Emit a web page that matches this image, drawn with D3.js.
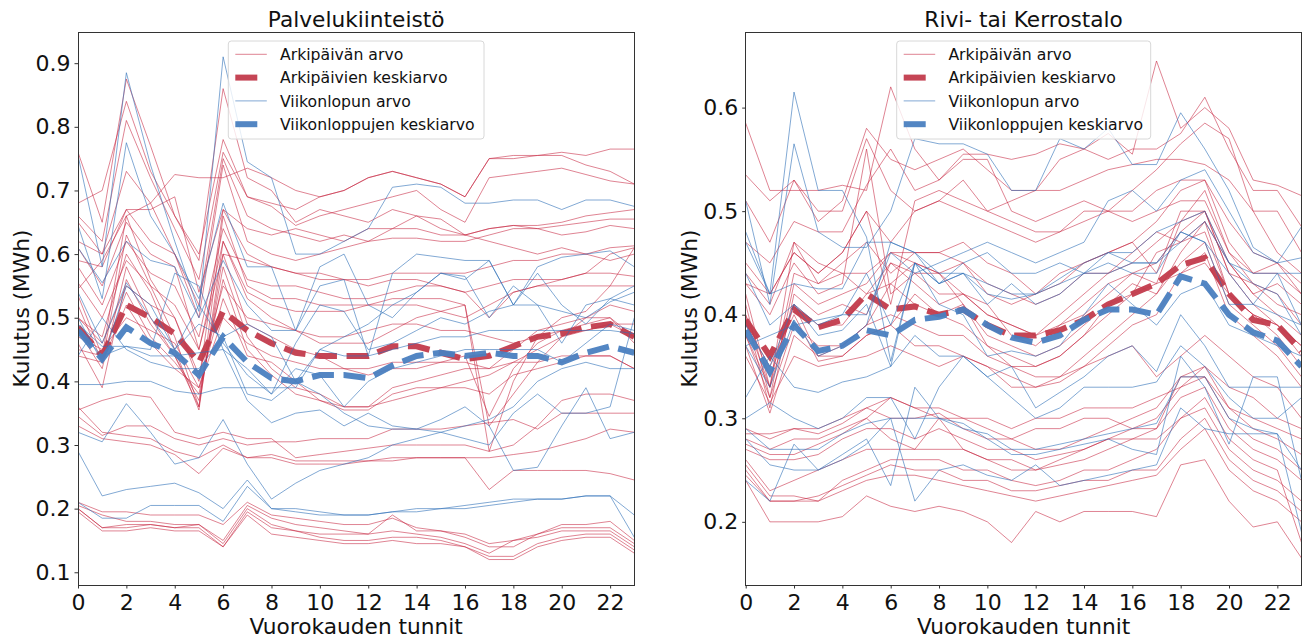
<!DOCTYPE html>
<html>
<head>
<meta charset="utf-8">
<script src="https://cdn.jsdelivr.net/npm/d3@7"></script>
<style>
  html, body { margin: 0; padding: 0; background: #ffffff; }
  svg { display: block; font-family: "DejaVu Sans", sans-serif; }
</style>
</head>
<body>
<svg id="chart" width="1304" height="639"></svg>
<script>
// Hours of the day
const hours = d3.range(24);
const xTicks = [0, 2, 4, 6, 8, 10, 12, 14, 16, 18, 20, 22];

// Legend labels
const legendLabels = ["Arkipäivän arvo", "Arkipäivien keskiarvo", "Viikonlopun arvo", "Viikonloppujen keskiarvo"];

// ---- Palvelukiinteistö: weekday profiles (MWh per hour)
const palveluArki = [
  [0.21,0.195,0.195,0.19,0.19,0.19,0.175,0.21,0.19,0.185,0.18,0.175,0.175,0.185,0.17,0.165,0.16,0.145,0.15,0.16,0.175,0.175,0.18,0.15],
  [0.205,0.19,0.18,0.18,0.175,0.175,0.15,0.205,0.185,0.175,0.17,0.165,0.16,0.19,0.165,0.165,0.155,0.14,0.14,0.16,0.17,0.17,0.17,0.145],
  [0.2,0.17,0.175,0.175,0.17,0.175,0.145,0.2,0.175,0.165,0.16,0.16,0.16,0.165,0.16,0.155,0.145,0.13,0.15,0.155,0.165,0.165,0.165,0.14],
  [0.195,0.165,0.165,0.17,0.165,0.165,0.14,0.195,0.17,0.165,0.155,0.15,0.15,0.155,0.155,0.15,0.14,0.125,0.125,0.145,0.155,0.16,0.16,0.135],
  [0.2,0.17,0.17,0.175,0.17,0.17,0.14,0.19,0.16,0.155,0.15,0.145,0.145,0.15,0.145,0.145,0.14,0.12,0.12,0.14,0.15,0.155,0.155,0.13],
  [0.36,0.32,0.315,0.31,0.29,0.28,0.3,0.28,0.285,0.275,0.275,0.275,0.275,0.275,0.28,0.28,0.28,0.23,0.26,0.26,0.26,0.26,0.255,0.245],
  [0.345,0.315,0.33,0.33,0.31,0.3,0.31,0.3,0.305,0.305,0.31,0.31,0.31,0.325,0.325,0.325,0.33,0.335,0.34,0.325,0.35,0.35,0.35,0.35],
  [0.355,0.37,0.38,0.375,0.32,0.31,0.32,0.31,0.31,0.28,0.285,0.29,0.295,0.3,0.3,0.3,0.3,0.29,0.3,0.33,0.37,0.38,0.38,0.37],
  [0.33,0.31,0.305,0.3,0.285,0.255,0.295,0.28,0.28,0.27,0.27,0.27,0.275,0.28,0.28,0.28,0.28,0.28,0.285,0.29,0.3,0.31,0.325,0.32],
  [0.76,0.65,0.875,0.77,0.66,0.59,0.86,0.72,0.7,0.65,0.67,0.66,0.65,0.67,0.66,0.655,0.63,0.64,0.645,0.64,0.645,0.65,0.655,0.655],
  [0.68,0.7,0.84,0.73,0.66,0.6,0.78,0.69,0.68,0.67,0.69,0.7,0.72,0.73,0.72,0.71,0.69,0.75,0.755,0.755,0.76,0.755,0.765,0.765],
  [0.66,0.62,0.81,0.72,0.64,0.56,0.76,0.69,0.675,0.645,0.66,0.67,0.68,0.69,0.7,0.67,0.65,0.72,0.725,0.73,0.735,0.725,0.715,0.71],
  [0.62,0.6,0.73,0.68,0.6,0.52,0.75,0.66,0.64,0.63,0.62,0.63,0.62,0.64,0.66,0.64,0.63,0.64,0.645,0.645,0.65,0.66,0.665,0.67],
  [0.59,0.58,0.67,0.62,0.6,0.5,0.74,0.62,0.6,0.59,0.6,0.61,0.62,0.625,0.625,0.62,0.62,0.63,0.64,0.64,0.63,0.635,0.645,0.64],
  [0.545,0.59,0.66,0.68,0.725,0.72,0.72,0.735,0.72,0.7,0.69,0.7,0.72,0.73,0.72,0.71,0.69,0.75,0.75,0.755,0.755,0.74,0.73,0.71],
  [0.535,0.44,0.66,0.56,0.5,0.4,0.67,0.6,0.58,0.57,0.56,0.56,0.55,0.56,0.56,0.55,0.54,0.5,0.54,0.55,0.56,0.57,0.6,0.61],
  [0.52,0.43,0.63,0.55,0.47,0.36,0.66,0.55,0.53,0.53,0.52,0.52,0.52,0.53,0.53,0.53,0.52,0.29,0.4,0.47,0.5,0.51,0.55,0.61],
  [0.5,0.47,0.6,0.54,0.45,0.355,0.62,0.53,0.5,0.48,0.46,0.46,0.46,0.48,0.5,0.51,0.52,0.33,0.38,0.43,0.47,0.5,0.52,0.51],
  [0.48,0.42,0.58,0.5,0.44,0.36,0.6,0.49,0.47,0.45,0.44,0.42,0.41,0.42,0.42,0.43,0.44,0.345,0.42,0.46,0.48,0.49,0.5,0.47],
  [0.46,0.39,0.56,0.49,0.44,0.37,0.58,0.47,0.42,0.39,0.38,0.36,0.36,0.39,0.4,0.41,0.42,0.42,0.45,0.48,0.49,0.5,0.5,0.46],
  [0.45,0.44,0.54,0.47,0.43,0.38,0.56,0.45,0.41,0.38,0.37,0.355,0.355,0.38,0.39,0.39,0.39,0.38,0.41,0.42,0.43,0.44,0.44,0.42],
  [0.44,0.43,0.52,0.46,0.42,0.39,0.53,0.44,0.43,0.4,0.37,0.36,0.36,0.37,0.38,0.39,0.4,0.41,0.43,0.45,0.47,0.48,0.49,0.49],
  [0.61,0.55,0.65,0.6,0.58,0.45,0.6,0.59,0.58,0.57,0.57,0.56,0.56,0.57,0.57,0.57,0.57,0.58,0.59,0.59,0.6,0.6,0.61,0.613],
  [0.58,0.52,0.62,0.57,0.55,0.47,0.64,0.56,0.55,0.55,0.54,0.53,0.53,0.54,0.55,0.55,0.54,0.55,0.56,0.56,0.56,0.57,0.57,0.565],
  [0.555,0.5,0.59,0.55,0.52,0.45,0.62,0.54,0.52,0.51,0.51,0.51,0.52,0.52,0.52,0.51,0.5,0.52,0.54,0.55,0.55,0.55,0.55,0.55],
  [0.65,0.6,0.67,0.67,0.69,0.54,0.67,0.64,0.63,0.64,0.63,0.62,0.64,0.64,0.64,0.63,0.63,0.62,0.61,0.6,0.61,0.6,0.59,0.6],
  [0.5,0.46,0.55,0.52,0.5,0.41,0.55,0.5,0.49,0.48,0.47,0.47,0.48,0.49,0.49,0.48,0.48,0.47,0.46,0.47,0.48,0.48,0.49,0.47],
  [0.47,0.45,0.5,0.48,0.46,0.39,0.5,0.46,0.44,0.43,0.42,0.42,0.42,0.43,0.43,0.43,0.43,0.42,0.43,0.43,0.44,0.44,0.44,0.42]
];
const palveluArkiMean = [0.485,0.44,0.52,0.5,0.475,0.43,0.51,0.48,0.46,0.445,0.44,0.44,0.44,0.455,0.455,0.445,0.435,0.44,0.455,0.47,0.475,0.485,0.49,0.47];

// ---- Palvelukiinteistö: weekend profiles
const palveluViikonloppu = [
  [0.755,0.58,0.885,0.74,0.62,0.51,0.91,0.745,0.72,0.6,0.6,0.62,0.64,0.705,0.71,0.705,0.68,0.68,0.685,0.685,0.67,0.685,0.685,0.675],
  [0.645,0.53,0.775,0.66,0.6,0.53,0.68,0.58,0.58,0.48,0.58,0.6,0.52,0.5,0.54,0.57,0.56,0.59,0.52,0.57,0.52,0.49,0.53,0.55],
  [0.61,0.555,0.62,0.59,0.58,0.5,0.59,0.52,0.48,0.48,0.55,0.56,0.44,0.57,0.6,0.595,0.59,0.59,0.52,0.58,0.595,0.6,0.605,0.58],
  [0.54,0.46,0.555,0.5,0.45,0.49,0.47,0.49,0.47,0.4,0.45,0.47,0.49,0.52,0.54,0.57,0.565,0.5,0.55,0.52,0.51,0.5,0.525,0.54],
  [0.49,0.455,0.455,0.45,0.57,0.55,0.45,0.42,0.38,0.46,0.52,0.51,0.45,0.46,0.48,0.5,0.49,0.51,0.52,0.52,0.46,0.52,0.53,0.52],
  [0.395,0.395,0.4,0.4,0.385,0.38,0.39,0.39,0.39,0.39,0.45,0.44,0.44,0.45,0.46,0.47,0.47,0.48,0.48,0.48,0.48,0.48,0.48,0.475],
  [0.32,0.305,0.365,0.32,0.27,0.28,0.34,0.27,0.215,0.24,0.26,0.27,0.28,0.3,0.31,0.32,0.33,0.34,0.36,0.4,0.42,0.43,0.42,0.42],
  [0.29,0.22,0.23,0.235,0.24,0.225,0.2,0.245,0.2,0.2,0.195,0.19,0.19,0.195,0.195,0.2,0.205,0.21,0.215,0.215,0.215,0.22,0.22,0.19],
  [0.21,0.185,0.185,0.205,0.205,0.205,0.18,0.235,0.2,0.195,0.19,0.19,0.19,0.195,0.2,0.2,0.2,0.205,0.21,0.215,0.215,0.22,0.22,0.155],
  [0.48,0.44,0.455,0.44,0.44,0.445,0.45,0.37,0.335,0.35,0.355,0.33,0.35,0.33,0.325,0.34,0.36,0.33,0.26,0.265,0.33,0.39,0.31,0.32],
  [0.44,0.5,0.45,0.43,0.42,0.42,0.47,0.38,0.37,0.4,0.38,0.35,0.33,0.325,0.325,0.32,0.31,0.3,0.35,0.38,0.35,0.35,0.36,0.5],
  [0.5,0.43,0.55,0.52,0.45,0.52,0.46,0.41,0.38,0.42,0.41,0.36,0.4,0.42,0.43,0.44,0.45,0.45,0.45,0.45,0.43,0.46,0.49,0.48]
];
const palveluViikonloppuMean = [0.48,0.435,0.485,0.46,0.445,0.41,0.47,0.43,0.405,0.4,0.41,0.41,0.405,0.425,0.44,0.445,0.44,0.445,0.44,0.44,0.43,0.445,0.455,0.445];

// ---- Rivi- tai Kerrostalo: weekday profiles
const kerrosArki = [
  [0.585,0.52,0.52,0.52,0.525,0.52,0.62,0.56,0.53,0.555,0.555,0.55,0.555,0.565,0.56,0.575,0.555,0.645,0.58,0.6,0.58,0.53,0.525,0.515],
  [0.535,0.51,0.53,0.49,0.51,0.58,0.55,0.54,0.55,0.56,0.54,0.52,0.52,0.55,0.56,0.55,0.56,0.56,0.575,0.61,0.56,0.52,0.52,0.485],
  [0.51,0.47,0.53,0.5,0.5,0.57,0.52,0.5,0.51,0.53,0.5,0.51,0.52,0.52,0.53,0.54,0.545,0.55,0.55,0.545,0.53,0.5,0.5,0.46],
  [0.47,0.45,0.49,0.48,0.48,0.525,0.56,0.52,0.53,0.55,0.55,0.5,0.49,0.5,0.51,0.5,0.52,0.54,0.565,0.585,0.57,0.5,0.46,0.44],
  [0.45,0.42,0.46,0.44,0.46,0.5,0.47,0.5,0.51,0.5,0.49,0.48,0.47,0.48,0.49,0.5,0.5,0.52,0.53,0.53,0.49,0.46,0.45,0.43],
  [0.44,0.41,0.47,0.43,0.45,0.47,0.44,0.46,0.46,0.47,0.45,0.44,0.42,0.44,0.45,0.46,0.47,0.49,0.52,0.53,0.47,0.44,0.44,0.42],
  [0.43,0.4,0.45,0.42,0.43,0.56,0.42,0.44,0.44,0.45,0.42,0.41,0.42,0.43,0.45,0.46,0.47,0.44,0.5,0.5,0.45,0.42,0.43,0.41],
  [0.42,0.33,0.44,0.43,0.44,0.42,0.45,0.44,0.42,0.42,0.4,0.39,0.38,0.4,0.42,0.44,0.45,0.47,0.49,0.5,0.44,0.43,0.42,0.39],
  [0.41,0.32,0.43,0.41,0.42,0.43,0.46,0.46,0.46,0.45,0.43,0.42,0.41,0.42,0.44,0.44,0.46,0.48,0.47,0.49,0.45,0.42,0.4,0.38],
  [0.4,0.31,0.42,0.4,0.41,0.4,0.45,0.43,0.41,0.42,0.41,0.38,0.37,0.39,0.41,0.43,0.44,0.45,0.48,0.5,0.44,0.41,0.39,0.37],
  [0.395,0.33,0.41,0.36,0.37,0.39,0.43,0.41,0.4,0.41,0.38,0.37,0.36,0.37,0.39,0.41,0.43,0.42,0.46,0.49,0.42,0.4,0.39,0.36],
  [0.39,0.35,0.4,0.355,0.36,0.38,0.39,0.42,0.4,0.39,0.37,0.36,0.35,0.36,0.38,0.41,0.42,0.46,0.47,0.48,0.42,0.4,0.38,0.35],
  [0.38,0.32,0.39,0.37,0.37,0.39,0.4,0.39,0.38,0.38,0.36,0.35,0.34,0.34,0.36,0.38,0.4,0.42,0.45,0.47,0.41,0.39,0.37,0.34],
  [0.37,0.305,0.38,0.36,0.36,0.38,0.39,0.37,0.37,0.36,0.35,0.34,0.33,0.335,0.35,0.37,0.39,0.4,0.44,0.46,0.4,0.38,0.36,0.33],
  [0.29,0.28,0.29,0.29,0.3,0.31,0.32,0.31,0.31,0.3,0.3,0.29,0.3,0.3,0.31,0.31,0.31,0.32,0.33,0.35,0.31,0.3,0.29,0.28],
  [0.285,0.285,0.29,0.285,0.295,0.31,0.3,0.3,0.305,0.29,0.28,0.28,0.29,0.29,0.3,0.3,0.29,0.29,0.34,0.35,0.33,0.32,0.3,0.29],
  [0.275,0.265,0.265,0.275,0.285,0.3,0.32,0.31,0.3,0.3,0.29,0.28,0.27,0.27,0.28,0.29,0.3,0.31,0.34,0.34,0.31,0.29,0.28,0.265],
  [0.27,0.26,0.26,0.265,0.28,0.29,0.29,0.28,0.29,0.28,0.27,0.27,0.26,0.265,0.27,0.28,0.29,0.3,0.33,0.34,0.3,0.28,0.27,0.25],
  [0.26,0.23,0.24,0.25,0.26,0.27,0.27,0.27,0.27,0.27,0.26,0.25,0.25,0.255,0.26,0.27,0.28,0.29,0.32,0.33,0.29,0.27,0.26,0.24],
  [0.255,0.225,0.225,0.22,0.24,0.25,0.26,0.26,0.26,0.25,0.25,0.24,0.235,0.24,0.25,0.25,0.26,0.27,0.3,0.31,0.27,0.25,0.24,0.22],
  [0.25,0.22,0.22,0.225,0.235,0.245,0.255,0.25,0.25,0.24,0.24,0.23,0.23,0.235,0.24,0.24,0.25,0.25,0.28,0.3,0.26,0.24,0.23,0.21],
  [0.245,0.22,0.22,0.22,0.23,0.24,0.245,0.245,0.24,0.235,0.23,0.225,0.22,0.225,0.23,0.235,0.24,0.245,0.27,0.29,0.25,0.23,0.22,0.2],
  [0.24,0.2,0.2,0.2,0.205,0.225,0.215,0.21,0.215,0.21,0.2,0.18,0.21,0.2,0.21,0.21,0.21,0.205,0.255,0.26,0.22,0.195,0.2,0.165],
  [0.28,0.27,0.28,0.28,0.29,0.3,0.28,0.27,0.3,0.27,0.26,0.26,0.25,0.26,0.27,0.28,0.28,0.28,0.3,0.32,0.28,0.26,0.25,0.18],
  [0.4,0.34,0.41,0.39,0.39,0.42,0.43,0.45,0.44,0.41,0.37,0.35,0.35,0.36,0.38,0.4,0.42,0.43,0.44,0.45,0.42,0.4,0.39,0.37],
  [0.38,0.33,0.47,0.45,0.44,0.44,0.46,0.45,0.44,0.42,0.4,0.39,0.38,0.39,0.4,0.42,0.44,0.43,0.49,0.52,0.46,0.43,0.41,0.4],
  [0.36,0.315,0.36,0.35,0.355,0.36,0.37,0.36,0.35,0.36,0.35,0.33,0.33,0.34,0.35,0.36,0.37,0.34,0.36,0.38,0.36,0.34,0.33,0.3],
  [0.43,0.42,0.46,0.44,0.46,0.5,0.41,0.51,0.52,0.51,0.5,0.49,0.48,0.48,0.5,0.5,0.49,0.5,0.51,0.51,0.46,0.44,0.45,0.42]
];
const kerrosArkiMean = [0.395,0.36,0.405,0.388,0.395,0.42,0.405,0.408,0.4,0.405,0.39,0.38,0.38,0.385,0.395,0.41,0.42,0.43,0.448,0.455,0.42,0.395,0.39,0.365];

// ---- Rivi- tai Kerrostalo: weekend profiles
const kerrosViikonloppu = [
  [0.48,0.42,0.615,0.52,0.52,0.475,0.355,0.45,0.43,0.44,0.42,0.415,0.42,0.435,0.45,0.46,0.45,0.45,0.47,0.49,0.45,0.43,0.42,0.38],
  [0.51,0.41,0.565,0.48,0.465,0.465,0.5,0.57,0.565,0.565,0.555,0.52,0.52,0.57,0.56,0.58,0.545,0.545,0.595,0.56,0.52,0.465,0.45,0.455],
  [0.47,0.42,0.43,0.425,0.425,0.47,0.47,0.46,0.43,0.45,0.46,0.44,0.44,0.45,0.44,0.46,0.46,0.48,0.49,0.5,0.45,0.44,0.44,0.39],
  [0.44,0.39,0.41,0.39,0.4,0.4,0.46,0.44,0.45,0.46,0.47,0.46,0.45,0.46,0.47,0.51,0.52,0.5,0.53,0.54,0.5,0.46,0.45,0.485],
  [0.37,0.38,0.39,0.395,0.4,0.44,0.39,0.45,0.43,0.44,0.41,0.43,0.41,0.42,0.44,0.45,0.44,0.44,0.48,0.47,0.41,0.41,0.44,0.44],
  [0.32,0.36,0.33,0.325,0.335,0.34,0.35,0.38,0.36,0.36,0.34,0.35,0.31,0.325,0.34,0.36,0.37,0.345,0.4,0.37,0.33,0.33,0.33,0.33],
  [0.3,0.315,0.3,0.29,0.3,0.32,0.32,0.28,0.33,0.36,0.34,0.32,0.3,0.31,0.33,0.33,0.33,0.335,0.37,0.35,0.32,0.3,0.3,0.32],
  [0.29,0.27,0.27,0.27,0.285,0.295,0.3,0.3,0.3,0.29,0.285,0.27,0.27,0.275,0.28,0.285,0.29,0.295,0.34,0.34,0.3,0.29,0.285,0.25],
  [0.28,0.255,0.25,0.25,0.265,0.28,0.235,0.33,0.3,0.295,0.28,0.265,0.265,0.27,0.275,0.28,0.27,0.265,0.36,0.33,0.275,0.34,0.34,0.24],
  [0.24,0.22,0.275,0.25,0.26,0.275,0.3,0.22,0.25,0.255,0.245,0.24,0.255,0.235,0.24,0.245,0.25,0.255,0.31,0.29,0.285,0.285,0.285,0.19],
  [0.37,0.33,0.395,0.36,0.37,0.39,0.47,0.46,0.44,0.44,0.43,0.42,0.42,0.43,0.44,0.44,0.45,0.45,0.48,0.47,0.44,0.41,0.4,0.39],
  [0.39,0.35,0.41,0.38,0.385,0.41,0.35,0.45,0.41,0.4,0.36,0.365,0.36,0.37,0.4,0.43,0.41,0.39,0.42,0.43,0.39,0.38,0.37,0.36]
];
const kerrosViikonloppuMean = [0.385,0.345,0.39,0.365,0.37,0.385,0.38,0.395,0.398,0.405,0.39,0.378,0.373,0.38,0.395,0.405,0.405,0.4,0.437,0.43,0.4,0.383,0.375,0.35];

// Axis tick values
const palveluYTicks = [0.1, 0.2, 0.3, 0.4, 0.5, 0.6, 0.7, 0.8, 0.9];
const kerrosYTicks = [0.2, 0.3, 0.4, 0.5, 0.6];

// Style
const RED_THIN = "#c41f3a";
const BLUE_THIN = "#2f6fb8";
const RED_MEAN = "#c23b4c";
const BLUE_MEAN = "#4a80c0";
const FONT = "DejaVu Sans, sans-serif";

const svg = d3.select("#chart");

function drawPanel(opts) {
  const { left, right, top, bottom, yDomain, yTicks, title, arki, arkiMean, vkl, vklMean, legendX, id } = opts;
  const x = d3.scaleLinear().domain([0, 23]).range([left, right]);
  const y = d3.scaleLinear().domain(yDomain).range([bottom, top]);
  const line = d3.line().x((d, i) => x(hours[i])).y(d => y(d));

  const g = svg.append("g");

  g.append("clipPath").attr("id", "clip" + id)
    .append("rect").attr("x", left).attr("y", top).attr("width", right - left).attr("height", bottom - top);

  const plot = g.append("g").attr("clip-path", `url(#clip${id})`);

  plot.selectAll("path.arki").data(arki).join("path")
    .attr("class", "arki")
    .attr("d", line)
    .attr("fill", "none").attr("stroke", RED_THIN).attr("stroke-width", 1)
    .attr("stroke-opacity", 0.55).attr("stroke-linejoin", "miter");

  plot.append("path").datum(arkiMean)
    .attr("d", line)
    .attr("fill", "none").attr("stroke", RED_MEAN).attr("stroke-width", 6)
    .attr("stroke-dasharray", "22,9.6").attr("stroke-opacity", 0.95);

  plot.selectAll("path.vkl").data(vkl).join("path")
    .attr("class", "vkl")
    .attr("d", line)
    .attr("fill", "none").attr("stroke", BLUE_THIN).attr("stroke-width", 1)
    .attr("stroke-opacity", 0.6);

  plot.append("path").datum(vklMean)
    .attr("d", line)
    .attr("fill", "none").attr("stroke", BLUE_MEAN).attr("stroke-width", 6)
    .attr("stroke-dasharray", "22,9.6").attr("stroke-opacity", 0.95);

  // Frame
  g.append("rect").attr("x", left).attr("y", top).attr("width", right - left).attr("height", bottom - top)
    .attr("fill", "none").attr("stroke", "#333").attr("stroke-width", 1).attr("shape-rendering", "crispEdges");

  // X axis
  const xAxis = d3.axisBottom(x).tickValues(xTicks).tickSize(3.5).tickPadding(6).tickFormat(d3.format("d"));
  const gx = g.append("g").attr("transform", `translate(0,${bottom})`).call(xAxis);
  gx.select(".domain").remove();
  gx.selectAll("line").attr("stroke", "#333");
  gx.selectAll("text").attr("font-family", FONT).attr("font-size", 22).attr("fill", "#111");

  // Y axis
  const yAxis = d3.axisLeft(y).tickValues(yTicks).tickSize(3.5).tickPadding(4).tickFormat(d3.format(".1f"));
  const gy = g.append("g").attr("transform", `translate(${left},0)`).call(yAxis);
  gy.select(".domain").remove();
  gy.selectAll("line").attr("stroke", "#333");
  gy.selectAll("text").attr("font-family", FONT).attr("font-size", 22).attr("fill", "#111");

  // Titles and axis labels
  g.append("text").attr("x", (left + right) / 2).attr("y", 27)
    .attr("text-anchor", "middle").attr("font-family", FONT).attr("font-size", 21.7).attr("fill", "#111")
    .text(title);
  g.append("text").attr("x", (left + right) / 2).attr("y", 634)
    .attr("text-anchor", "middle").attr("font-family", FONT).attr("font-size", 21.7).attr("fill", "#111")
    .text("Vuorokauden tunnit");
  g.append("text")
    .attr("transform", `translate(${left - 49},${(top + bottom) / 2}) rotate(-90)`)
    .attr("text-anchor", "middle").attr("font-family", FONT).attr("font-size", 21.7).attr("fill", "#111")
    .text("Kulutus (MWh)");

  // Legend
  const lg = g.append("g").attr("transform", `translate(${legendX},41)`);
  const lgW = opts.legendW, lgH = 98;
  lg.append("rect").attr("x", 0).attr("y", 0).attr("width", lgW).attr("height", lgH).attr("rx", 3)
    .attr("fill", "#ffffff").attr("fill-opacity", 0.8).attr("stroke", "#d8d8d8").attr("stroke-width", 1);
  const styles = [
    { c: RED_THIN, w: 1, dash: null, o: 0.55 },
    { c: RED_MEAN, w: 6, dash: "22,9.6", o: 0.95 },
    { c: BLUE_THIN, w: 1, dash: null, o: 0.6 },
    { c: BLUE_MEAN, w: 6, dash: "22,9.6", o: 0.95 }
  ];
  legendLabels.forEach((lab, i) => {
    const cy = 13.3 + i * 23.3;
    const s = styles[i];
    const ln = lg.append("line").attr("x1", 7).attr("x2", 38.5).attr("y1", cy).attr("y2", cy)
      .attr("stroke", s.c).attr("stroke-width", s.w).attr("stroke-opacity", s.o);
    if (s.dash) ln.attr("stroke-dasharray", s.dash);
    lg.append("text").attr("x", 51.7).attr("y", cy).attr("dy", "0.36em")
      .attr("font-family", FONT).attr("font-size", 15.7).attr("fill", "#111").text(lab);
  });
}

drawPanel({
  id: "a", left: 78, right: 634.3, top: 32, bottom: 585,
  yDomain: [0.080, 0.949], yTicks: palveluYTicks, title: "Palvelukiinteistö",
  arki: palveluArki, arkiMean: palveluArkiMean, vkl: palveluViikonloppu, vklMean: palveluViikonloppuMean,
  legendX: 228.3, legendW: 255.7
});

drawPanel({
  id: "b", left: 745.7, right: 1301.5, top: 32, bottom: 585,
  yDomain: [0.139, 0.673], yTicks: kerrosYTicks, title: "Rivi- tai Kerrostalo",
  arki: kerrosArki, arkiMean: kerrosArkiMean, vkl: kerrosViikonloppu, vklMean: kerrosViikonloppuMean,
  legendX: 896.7, legendW: 254
});
</script>
</body>
</html>
